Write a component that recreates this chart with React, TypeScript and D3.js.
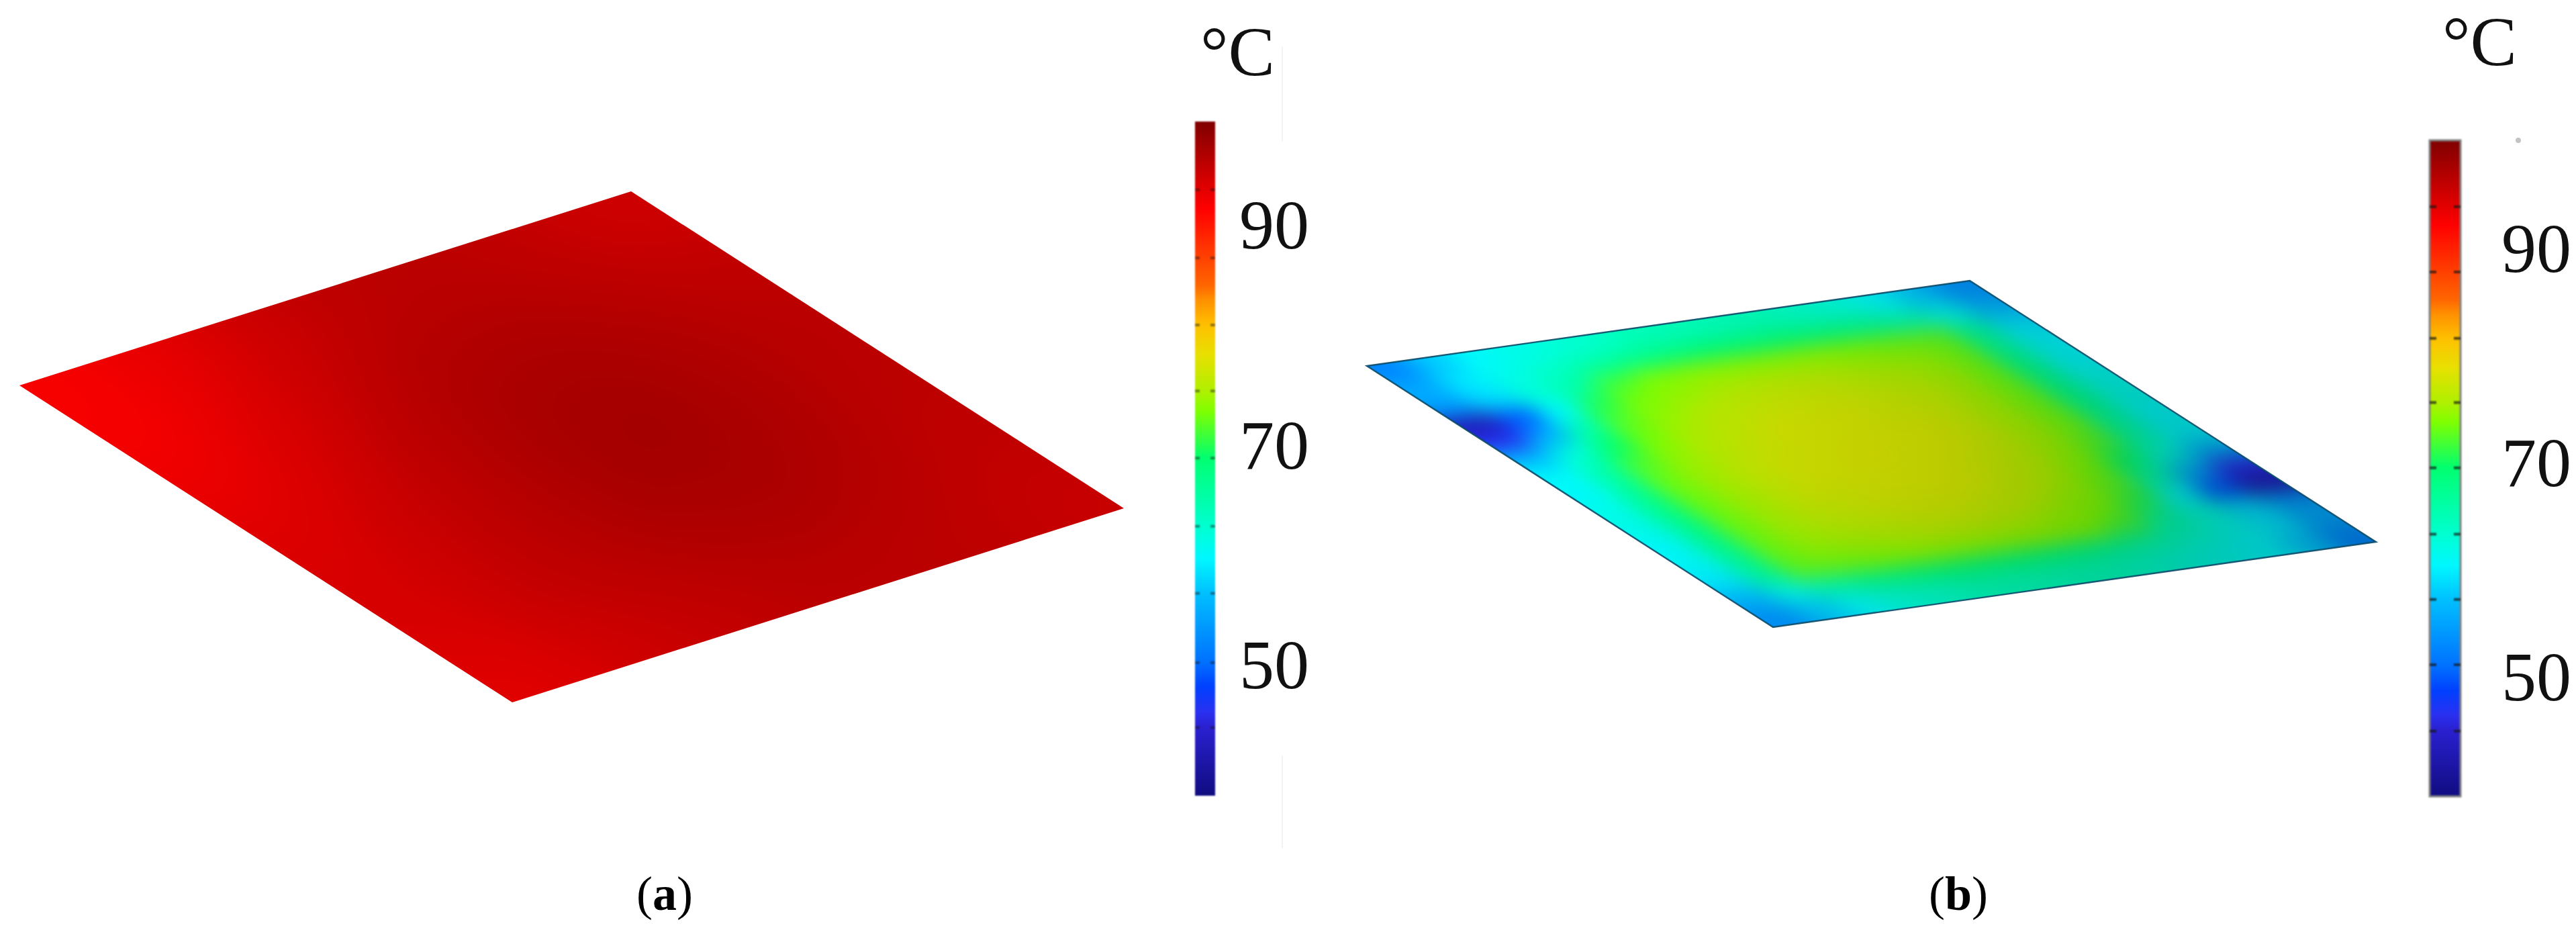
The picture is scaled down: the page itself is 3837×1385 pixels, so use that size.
import React from "react";
import * as d3 from "d3";

const WIDTH = 3837;
const HEIGHT = 1385;

// colour bar labels and the unlabelled tick marks (deg C)
const barLabels = [90, 70, 50];
const barTicksA = [93.2, 87, 80.9, 74.9, 68.8, 62.6, 56.5, 50.2, 44.3];
const barTicksB = [93.9, 87.8, 81.6, 75.6, 69.5, 63.3, 57.2, 51.1, 44.9];

// colour map as it appears on the bars
const paletteTemps = [
  99.4, 91.5, 84.5, 83.2, 80.9, 78.2, 74.9, 73.1, 68.8, 62.6, 59.7, 56.5, 50.2, 48, 45.7, 44.3, 38.1,
];
const paletteColors = [
  "#800000", "#ff0000", "#ff6600", "#ff9000", "#ffc000", "#e8e000", "#b0f000", "#80ff00", "#00ff70",
  "#00ffd0", "#00f8ff", "#00c0ff", "#0070ff", "#0040ff", "#2a30f0", "#2a20d0", "#100c80",
];

// plate temperatures, rows run along the left-to-bottom edge, columns along left-to-top
const tempsA = [
  [92, 93, 94.6, 95.6, 95.8, 95.4, 94.6],
  [92.2, 93.6, 95.2, 96.2, 96.4, 96, 95.4],
  [92.8, 94.2, 95.8, 96.8, 97, 96.5, 95.8],
  [93.6, 94.8, 96, 97, 97.2, 96.6, 95.8],
  [94, 95.1, 96, 97, 97, 96.5, 95.6],
  [94, 95.1, 95.8, 96.4, 96.6, 96, 95.4],
  [93.4, 94.6, 95.2, 95.8, 95.8, 95.6, 95],
];
const tempsB = [
  [52, 57, 60, 61, 62, 63, 64, 64, 64, 64, 63, 62, 60, 57, 53],
  [55, 59, 61, 63, 65, 66.5, 67.5, 68, 68, 68, 67.5, 66.5, 64.5, 61, 56],
  [54, 58, 62, 65, 71, 73, 73.5, 73.5, 73.5, 73.5, 73, 72.5, 72, 66, 59],
  [42, 49, 60, 70, 73, 74, 75, 75.5, 75.5, 75, 74.5, 74, 72.5, 66.5, 60],
  [46, 55, 65, 72, 74, 75.5, 76, 76.5, 76.5, 76, 75.5, 74.5, 72.5, 67, 60],
  [56, 62, 69, 73, 75, 76, 77, 77, 77, 76.5, 76, 74.5, 72.5, 67, 61],
  [60, 65, 71.5, 74, 75.5, 76.5, 77, 77, 77, 77, 76, 74.5, 72.5, 67, 61],
  [60, 66, 72.5, 74.5, 76, 77, 77, 77.5, 77, 77, 76, 74.5, 72.5, 66, 60],
  [61, 67, 72.5, 74.5, 76, 77, 77, 77, 77, 76.5, 75.5, 74, 71.5, 65, 60],
  [61, 67, 72.5, 74.5, 76, 76.5, 77, 77, 77, 76, 75, 73, 69, 62, 56],
  [60, 67, 72.5, 74.5, 75.5, 76, 76.5, 76.5, 76, 75.5, 74, 72, 65, 55, 46],
  [60, 66.5, 72.5, 74, 74.5, 75, 75.5, 75.5, 75, 74, 73, 70, 60, 49, 42],
  [59, 66, 72, 72.5, 73, 73.5, 73.5, 73.5, 73.5, 73, 71, 65, 62, 58, 54],
  [56, 61, 64.5, 66.5, 67.5, 68, 68, 68, 67.5, 66.5, 65, 63, 61, 59, 55],
  [53, 57, 60, 62, 63, 64, 64, 64, 64, 63, 62, 61, 60, 57, 52],
];

type Pt = [number, number];

const colorOf = d3
  .scaleLinear<string>()
  .domain(paletteTemps)
  .range(paletteColors)
  .interpolate(d3.interpolateRgb)
  .clamp(true);

const toPath = d3.line();

function Plate({ id, temps, left, top, bottom, blur, outline }: any) {
  const n = temps.length;
  const band = d3.scaleBand<number>().domain(d3.range(n)).range([0, 1]);
  const project = (u: number, v: number): Pt => [
    left[0] + u * (top[0] - left[0]) + v * (bottom[0] - left[0]),
    left[1] + u * (top[1] - left[1]) + v * (bottom[1] - left[1]),
  ];
  // outer cells run past the plate so the blur does not fade at its edge
  const lo = (i: number) => (i === 0 ? -0.4 : band(i)!);
  const hi = (i: number) => (i === n - 1 ? 1.4 : band(i)! + band.bandwidth());
  const outlinePath = toPath([project(0, 0), project(1, 0), project(1, 1), project(0, 1)]) + "Z";

  return (
    <g>
      <defs>
        <clipPath id={`${id}-clip`}>
          <path d={outlinePath} />
        </clipPath>
        <filter
          id={`${id}-blur`}
          filterUnits="userSpaceOnUse"
          x={0}
          y={0}
          width={WIDTH}
          height={HEIGHT}
          colorInterpolationFilters="sRGB"
        >
          <feGaussianBlur stdDeviation={blur} />
        </filter>
        <linearGradient id={`${id}-shade`} gradientUnits="userSpaceOnUse" x1={2400} x2={3250} y1={0} y2={0}>
          <stop offset={0} stopColor="#000" stopOpacity={0} />
          <stop offset={1} stopColor="#000" stopOpacity={0.2} />
        </linearGradient>
      </defs>
      <g clipPath={`url(#${id}-clip)`}>
        <g filter={`url(#${id}-blur)`}>
          {temps.map((row: number[], r: number) =>
            row.map((t, c) => {
              const cell = [project(lo(c), lo(r)), project(hi(c), lo(r)), project(hi(c), hi(r)), project(lo(c), hi(r))];
              return <path key={`${r}-${c}`} d={toPath(cell) + "Z"} fill={colorOf(t)} stroke={colorOf(t)} />;
            })
          )}
        </g>
        {outline && <path d={outlinePath} fill={`url(#${id}-shade)`} />}
      </g>
      {outline && <path d={outlinePath} fill="none" stroke="#0a4a68" strokeWidth={2.4} strokeOpacity={0.9} />}
    </g>
  );
}

function ColorBar({ id, x0, x1, yTop, yBottom, domain, ticks, labelX, unitX, unitY, framed, tickLen, tickOpacity }: any) {
  const y = d3.scaleLinear().domain(domain).range([yBottom, yTop]);
  const offset = d3.scaleLinear().domain([38.1, 99.4]).range([1, 0]);
  return (
    <g>
      <defs>
        <linearGradient id={`${id}-grad`} x1={0} x2={0} y1={0} y2={1}>
          {paletteTemps.map((t, i) => (
            <stop key={t} offset={offset(t)} stopColor={paletteColors[i]} />
          ))}
        </linearGradient>
        <filter id={`${id}-soft`} x="-20%" y="-5%" width="140%" height="110%" colorInterpolationFilters="sRGB">
          <feGaussianBlur stdDeviation={1} />
        </filter>
      </defs>
      <g filter={`url(#${id}-soft)`}>
        <rect
          x={x0}
          y={yTop}
          width={x1 - x0}
          height={yBottom - yTop}
          fill={`url(#${id}-grad)`}
          stroke={framed ? "#808080" : "none"}
          strokeWidth={framed ? 3 : 0}
        />
        {ticks.map((t: number) => (
          <g key={t} stroke="#151515" strokeOpacity={tickOpacity} strokeWidth={4}>
            <line x1={x0} x2={x0 + tickLen} y1={y(t)} y2={y(t)} />
            <line x1={x1 - tickLen} x2={x1} y1={y(t)} y2={y(t)} />
          </g>
        ))}
      </g>
      {barLabels.map((t) => (
        <text
          key={t}
          x={labelX}
          y={y(t)}
          dy="0.34em"
          textAnchor="start"
          fontFamily="'Liberation Serif', serif"
          fontSize={104}
          fill="#111"
        >
          {t}
        </text>
      ))}
      <text x={unitX} y={unitY} fontFamily="'Liberation Serif', serif" fontSize={104} fill="#111">
        °C
      </text>
    </g>
  );
}

function Caption({ x, letter }: any) {
  return (
    <text x={x} y={1355} textAnchor="middle" fontFamily="'Liberation Serif', serif" fontSize={72} fill="#000">
      (<tspan fontWeight="bold">{letter}</tspan>)
    </text>
  );
}

export default function App() {
  return (
    <svg
      width={WIDTH}
      height={HEIGHT}
      viewBox={`0 0 ${WIDTH} ${HEIGHT}`}
      style={{ position: "absolute", left: 0, top: 0, display: "block", background: "#fff" }}
    >
      <Plate id="plate-a" temps={tempsA} left={[29, 574]} top={[940, 285]} bottom={[763, 1046]} blur={48} />
      <Plate id="plate-b" temps={tempsB} left={[2036, 545]} top={[2934, 418]} bottom={[2641, 934]} blur={15} outline />

      <line x1={1910} x2={1910} y1={70} y2={210} stroke="#f3f3f3" strokeWidth={2} />
      <line x1={1910} x2={1910} y1={1126} y2={1263} stroke="#f3f3f3" strokeWidth={2} />
      <circle cx={3751} cy={209} r={4} fill="#c4c4c4" />

      <ColorBar
        id="bar-a"
        x0={1780}
        x1={1810}
        yTop={181}
        yBottom={1185}
        domain={[38.1, 99.4]}
        ticks={barTicksA}
        labelX={1846}
        unitX={1788}
        unitY={112}
        tickLen={7}
        tickOpacity={0.45}
      />
      <ColorBar
        id="bar-b"
        x0={3619}
        x1={3665}
        yTop={209}
        yBottom={1186}
        domain={[38.8, 100.1]}
        ticks={barTicksB}
        labelX={3726}
        unitX={3638}
        unitY={97}
        framed
        tickLen={10}
        tickOpacity={0.7}
      />

      <Caption x={990} letter="a" />
      <Caption x={2917} letter="b" />
    </svg>
  );
}
